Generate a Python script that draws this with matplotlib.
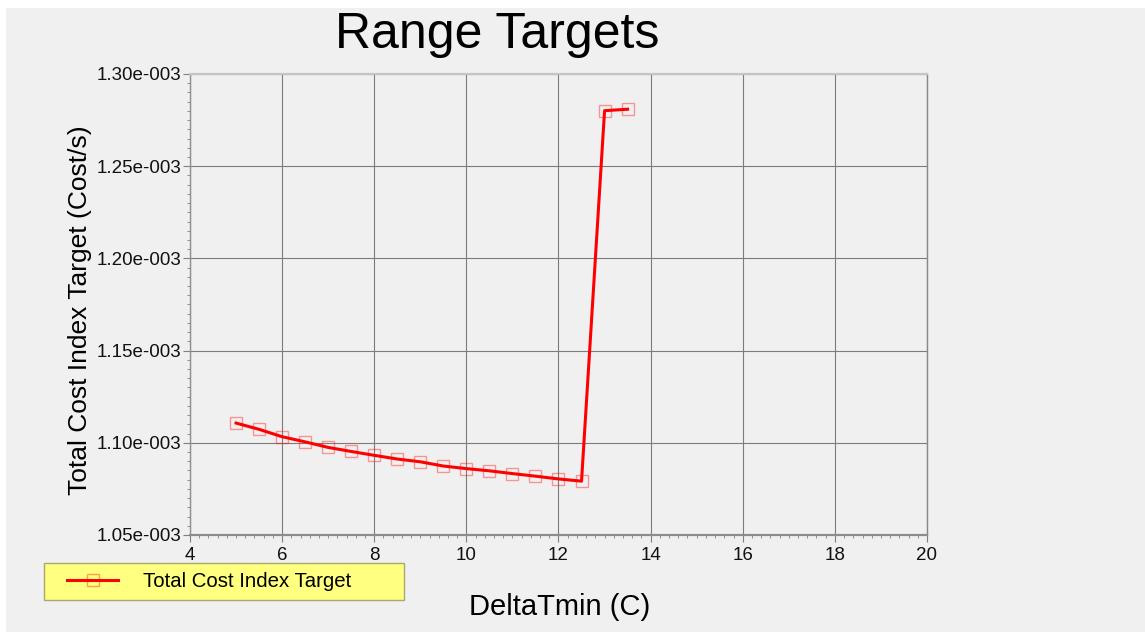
import matplotlib
matplotlib.use("Agg")
import matplotlib.pyplot as plt
from matplotlib.patches import Rectangle
from matplotlib.ticker import MultipleLocator, FuncFormatter
from matplotlib.legend_handler import HandlerTuple

plt.rcParams['font.family'] = ['Liberation Sans', 'DejaVu Sans']

# Data: DeltaTmin (C) vs Total Cost Index Target (Cost/s)
delta_tmin = [5.0, 5.5, 6.0, 6.5, 7.0, 7.5, 8.0, 8.5, 9.0, 9.5,
              10.0, 10.5, 11.0, 11.5, 12.0, 12.5, 13.0, 13.5]
total_cost_index = [1.1107e-3, 1.1073e-3, 1.1033e-3, 1.1005e-3, 1.0975e-3,
                    1.0953e-3, 1.0932e-3, 1.0912e-3, 1.0897e-3, 1.0874e-3,
                    1.0860e-3, 1.0848e-3, 1.0833e-3, 1.0819e-3, 1.0804e-3,
                    1.0792e-3, 1.2801e-3, 1.2809e-3]

title = "Range Targets"
x_label = "DeltaTmin (C)"
y_label = "Total Cost Index Target (Cost/s)"
series_name = "Total Cost Index Target"

W, H = 1145, 633
fig = plt.figure(figsize=(W / 100, H / 100), dpi=100, facecolor="white")

bg = "#f0f0f0"
# panel background (thin white margin on top/left)
fig.patches.append(Rectangle((6 / W, 1 - 632 / H), (W - 6) / W, (632 - 8) / H,
                             transform=fig.transFigure, facecolor=bg,
                             edgecolor="none", zorder=-10))

left, right, top, bottom = 190, 927, 74, 535
ax = fig.add_axes([left / W, 1 - bottom / H, (right - left) / W, (bottom - top) / H])
ax.set_facecolor(bg)

ax.set_xlim(4, 20)
ax.set_ylim(1.05e-3, 1.30e-3)
ax.xaxis.set_major_locator(MultipleLocator(2))
ax.xaxis.set_minor_locator(MultipleLocator(0.2))
ax.yaxis.set_major_locator(MultipleLocator(0.05e-3))
ax.yaxis.set_minor_locator(MultipleLocator(0.005e-3))


def sci3(v, pos):
    m, e = f"{v:.2e}".split("e")
    e = int(e)
    return f"{m}e{'-' if e < 0 else ''}{abs(e):03d}"


ax.yaxis.set_major_formatter(FuncFormatter(sci3))

ax.grid(True, which="major", color="#7c7c7c", linewidth=0.8)
ax.set_axisbelow(True)

ax.tick_params(which="major", direction="out", length=5, width=0.8,
               color="#808080", labelsize=13.5, labelcolor="#111111")
ax.tick_params(which="minor", direction="out", length=2.5, width=0.7,
               color="#909090")
ax.tick_params(axis="x", pad=3.5)
ax.tick_params(axis="y", pad=1.5)

ax.spines["left"].set_color("#909090")
ax.spines["left"].set_linewidth(1.0)
ax.spines["bottom"].set_color("#8c8c8c")
ax.spines["bottom"].set_linewidth(1.6)
ax.spines["top"].set_color("#c4c4c4")
ax.spines["top"].set_linewidth(1.6)
ax.spines["right"].set_color("#888888")
ax.spines["right"].set_linewidth(1.0)

markers, = ax.plot(delta_tmin, total_cost_index, linestyle="none", marker="s",
                   markersize=9, markerfacecolor="none",
                   markeredgecolor=(1.0, 0.0, 0.0, 0.38), markeredgewidth=1.0,
                   zorder=3)
line, = ax.plot(delta_tmin, total_cost_index, color="#ff0000", linewidth=2.2,
                zorder=4)

# title and axis labels
fig.text(497.5 / W, 1 - 48 / H, title, ha="center", va="baseline",
         fontsize=36, color="black")
ax.set_xlabel(x_label, fontsize=21, va="baseline")
ax.xaxis.set_label_coords((560 - left) / (right - left), (bottom - 615) / (bottom - top))
ax.set_ylabel(y_label, fontsize=19)
ax.yaxis.set_label_coords((92 - left) / (right - left), (bottom - 310) / (bottom - top))

# legend box
lx0, ly0, lx1, ly1 = 44, 563, 404, 600
fig.patches.append(Rectangle((lx0 / W, 1 - ly1 / H), (lx1 - lx0) / W, (ly1 - ly0) / H,
                             transform=fig.transFigure, facecolor="#ffff80",
                             edgecolor="#a8a870", linewidth=1.0, zorder=1))
leg = fig.legend([(line, markers)], [series_name],
                 handler_map={tuple: HandlerTuple(ndivide=1)},
                 loc="center left", bbox_to_anchor=(67 / W, 1 - 581.5 / H),
                 frameon=False, borderpad=0, borderaxespad=0,
                 handlelength=2.5, handletextpad=1.2, fontsize=14.7,
                 numpoints=1)
leg.set_zorder(2)

fig.savefig("out.png", dpi=100, facecolor="white")
